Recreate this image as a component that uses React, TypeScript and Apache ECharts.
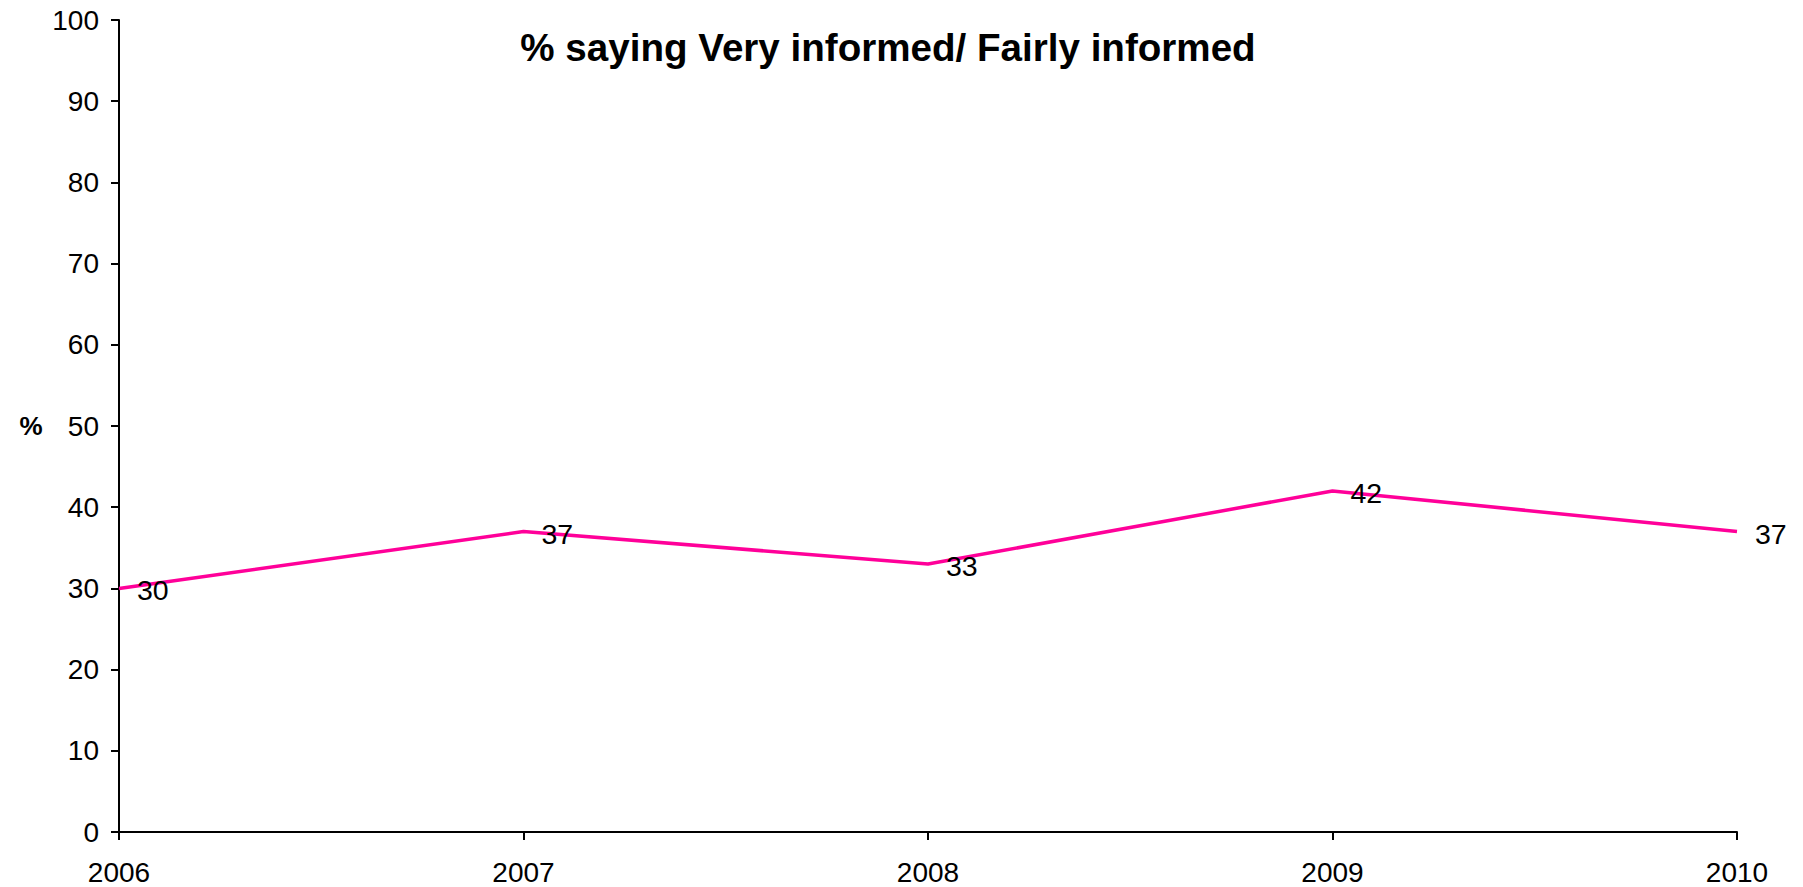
import React, { useEffect, useRef } from "react";
import * as echarts from "echarts";

const years = ["2006", "2007", "2008", "2009", "2010"];
const informed = [30, 37, 33, 42, 37];
const titleText = "% saying Very informed/ Fairly informed";
const yAxisLabel = "%";

const FONT = "Arial, 'Liberation Sans', sans-serif";

export default function App() {
  const ref = useRef<HTMLDivElement>(null);
  useEffect(() => {
    if (!ref.current) return;
    const chart = echarts.init(ref.current, null, { renderer: "svg" });
    chart.setOption({
      animation: false,
      backgroundColor: "#ffffff",
      grid: { left: 119, right: 66, top: 20, bottom: 55, containLabel: false },
      graphic: [
        {
          type: "text",
          x: 888,
          y: 47,
          style: {
            text: titleText,
            font: `bold 38.6px ${FONT}`,
            fill: "#000",
            textAlign: "center",
            textVerticalAlign: "middle",
          },
        },
        {
          type: "text",
          x: 31,
          y: 426,
          style: {
            text: yAxisLabel,
            font: `bold 26px ${FONT}`,
            fill: "#000",
            textAlign: "center",
            textVerticalAlign: "middle",
          },
        },
      ],
      xAxis: {
        type: "category",
        data: years,
        boundaryGap: false,
        axisLine: { show: true, lineStyle: { color: "#000", width: 2 } },
        axisTick: { show: true, length: 8, lineStyle: { color: "#000", width: 2 }, alignWithLabel: true },
        axisLabel: { color: "#000", fontSize: 28, fontFamily: FONT, margin: 26 },
        splitLine: { show: false },
      },
      yAxis: {
        type: "value",
        min: 0,
        max: 100,
        interval: 10,
        axisLine: { show: true, lineStyle: { color: "#000", width: 2 } },
        axisTick: { show: true, length: 8, lineStyle: { color: "#000", width: 2 } },
        axisLabel: { color: "#000", fontSize: 28, fontFamily: FONT, margin: 20 },
        splitLine: { show: false },
      },
      series: [
        {
          type: "line",
          data: informed,
          symbol: "circle",
          symbolSize: 2,
          showSymbol: true,
          lineStyle: { color: "#FF0099", width: 3.5 },
          itemStyle: { color: "rgba(0,0,0,0)", borderWidth: 0 },
          label: {
            show: true,
            position: "right",
            distance: 17,
            offset: [0, 2],
            color: "#000",
            fontSize: 28.5,
            fontFamily: FONT,
          },
        },
      ],
    });
    return () => chart.dispose();
  }, []);
  return (
    <div
      ref={ref}
      style={{ position: "absolute", left: 0, top: 0, width: 1803, height: 887 }}
    />
  );
}
